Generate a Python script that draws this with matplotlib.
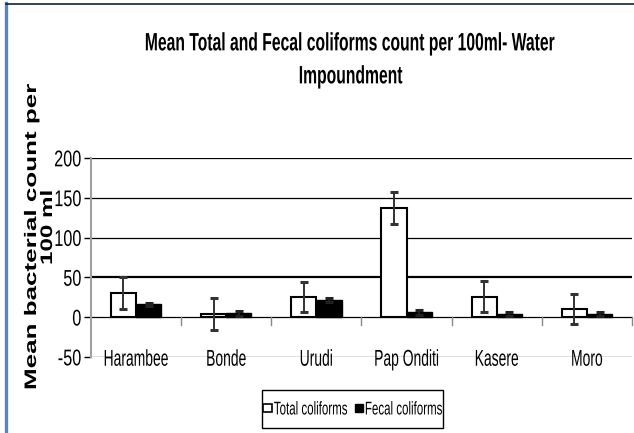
import matplotlib
matplotlib.use("Agg")
import matplotlib.pyplot as plt
from matplotlib.patches import Patch, Rectangle
from matplotlib.lines import Line2D
from matplotlib.patheffects import AbstractPathEffect
from matplotlib.transforms import Affine2D
import numpy as np

categories = ['Harambee', 'Bonde', 'Urudi', 'Pap Onditi', 'Kasere', 'Moro']
total_coliforms = [30, 4, 25, 137, 26, 10]
total_err = [20, 20, 19, 20, 20, 19]
fecal_coliforms = [16, 5, 21, 6, 4, 4]
fecal_err = [2, 3, 2.5, 3.5, 2.5, 2.5]
yticks = [-50, 0, 50, 100, 150, 200]
series_names = ['Total coliforms', 'Fecal coliforms']
title_lines = ['Mean Total and Fecal coliforms count per 100ml- Water', 'Impoundment']
ylabel_lines = ['Mean bacterial count per', '100 ml']

FONT = ['Liberation Sans', 'DejaVu Sans']


class Stretch(AbstractPathEffect):
    """Draw text glyphs scaled in glyph space (sx about the text start, sy about the cap centre)."""
    def __init__(self, sx=1.0, sy=1.0, cy=35.8):
        super().__init__()
        self.sx, self.sy, self.cy = sx, sy, cy

    def draw_path(self, renderer, gc, tpath, affine, rgbFace=None):
        t = Affine2D().translate(0, -self.cy).scale(self.sx, self.sy).translate(0, self.cy)
        renderer.draw_path(gc, tpath, t + affine, rgbFace)


W, H = 634, 433
fig = plt.figure(figsize=(W / 100, H / 100), dpi=100)
fig.patch.set_facecolor('white')

ax_l, ax_r, ax_t, ax_b = 91, 632, 158, 357
ax = fig.add_axes([ax_l / W, 1 - ax_b / H, (ax_r - ax_l) / W, (ax_b - ax_t) / H])
ax.set_facecolor('white')

x = np.arange(len(categories))
bw = 0.28
ax.set_xlim(-0.5, len(categories) - 0.5)
ax.set_ylim(-50, 200)

# gridlines
for yv in [100, 150, 200, -50]:
    ax.axhline(yv, color='black', lw=0.9, zorder=1)
ax.axhline(50, color='black', lw=1.6, zorder=1)
ax.axhline(0, color='black', lw=0.9, zorder=1)

ax.bar(x - bw / 2, total_coliforms, width=bw, color='white', edgecolor='black',
       linewidth=1.5, zorder=3)
ax.bar(x + bw / 2, fecal_coliforms, width=bw, color='black', edgecolor='black',
       linewidth=1.0, zorder=3)
ax.errorbar(x - bw / 2, total_coliforms, yerr=total_err, fmt='none', ecolor='#333333',
            elinewidth=1.4, capsize=2.8, capthick=2.2, zorder=4)
ax.errorbar(x + bw / 2, fecal_coliforms, yerr=fecal_err, fmt='none', ecolor='#222222',
            elinewidth=1.4, capsize=2.8, capthick=2.2, zorder=4)

# category boundary ticks at y=0
for b in np.arange(0.5, len(categories), 1.0):
    ax.plot([b, b], [0, -10], color='#888888', lw=1.0, zorder=2, clip_on=False)

# category labels sitting on the -50 line
for xi, c in zip(x, categories):
    t = ax.text(xi, -50, c, ha='center', va='center_baseline', fontsize=10.0,
                family=FONT, zorder=5)
    t.set_path_effects([Stretch(sy=1.65)])

for s in ['top', 'right', 'bottom']:
    ax.spines[s].set_visible(False)
ax.spines['left'].set_color('#a0a0a0')
ax.spines['left'].set_linewidth(1.5)
ax.set_xticks([])
ax.set_yticks(yticks)
ax.set_yticklabels([str(v) for v in yticks], family=FONT, fontsize=11.7)
for lab in ax.get_yticklabels():
    lab.set_path_effects([Stretch(sy=1.4)])
ax.tick_params(axis='y', length=5, width=1, color='black', pad=2)

# title (two centred lines)
t1 = fig.text(351 / W, 1 - 41 / H, title_lines[0], ha='center', va='center_baseline',
              fontsize=11.3, fontweight='bold', family=FONT)
t2 = fig.text(351 / W, 1 - 74 / H, title_lines[1], ha='center', va='center_baseline',
              fontsize=11.3, fontweight='bold', family=FONT)
for t in (t1, t2):
    t.set_path_effects([Stretch(sy=1.6)])

# y label (two lines), bold, elongated along the text direction; anchored at text start
yl1 = fig.text(30 / W, 1 - 390 / H, ylabel_lines[0], rotation=90, rotation_mode='anchor',
               ha='left', va='center_baseline', fontsize=12, fontweight='bold', family=FONT)
yl1.set_path_effects([Stretch(sx=1.56)])
yl2 = fig.text(46 / W, 1 - 265 / H, ylabel_lines[1], rotation=90, rotation_mode='anchor',
               ha='left', va='center_baseline', fontsize=12, fontweight='bold', family=FONT)
yl2.set_path_effects([Stretch(sx=1.45)])

# legend
handles = [Patch(facecolor='white', edgecolor='black', linewidth=1.2),
           Patch(facecolor='black', edgecolor='black')]
leg = fig.legend(handles, series_names, loc='center', bbox_to_anchor=(353 / W, 1 - 409 / H),
                 ncol=2, frameon=False, handlelength=0.75, handleheight=0.75,
                 handletextpad=0.15, columnspacing=0.6, borderpad=0.1,
                 prop={'family': FONT, 'size': 8.3})
for t in leg.get_texts():
    t.set_path_effects([Stretch(sy=1.6)])
fig.add_artist(Rectangle((262 / W, 1 - 428 / H), (443 - 262) / W, 38 / H,
                         transform=fig.transFigure, facecolor='none',
                         edgecolor='black', linewidth=1.0))

# outer frame (blue left border, dark top border)
fig.add_artist(Line2D([6 / W, 6 / W], [0, 1 - 3 / H], transform=fig.transFigure,
                      color='#5585c4', lw=2.4))
fig.add_artist(Line2D([6 / W, 1], [1 - 4 / H, 1 - 4 / H], transform=fig.transFigure,
                      color='#10203a', lw=1.2))

fig.savefig('out.png', dpi=100)
